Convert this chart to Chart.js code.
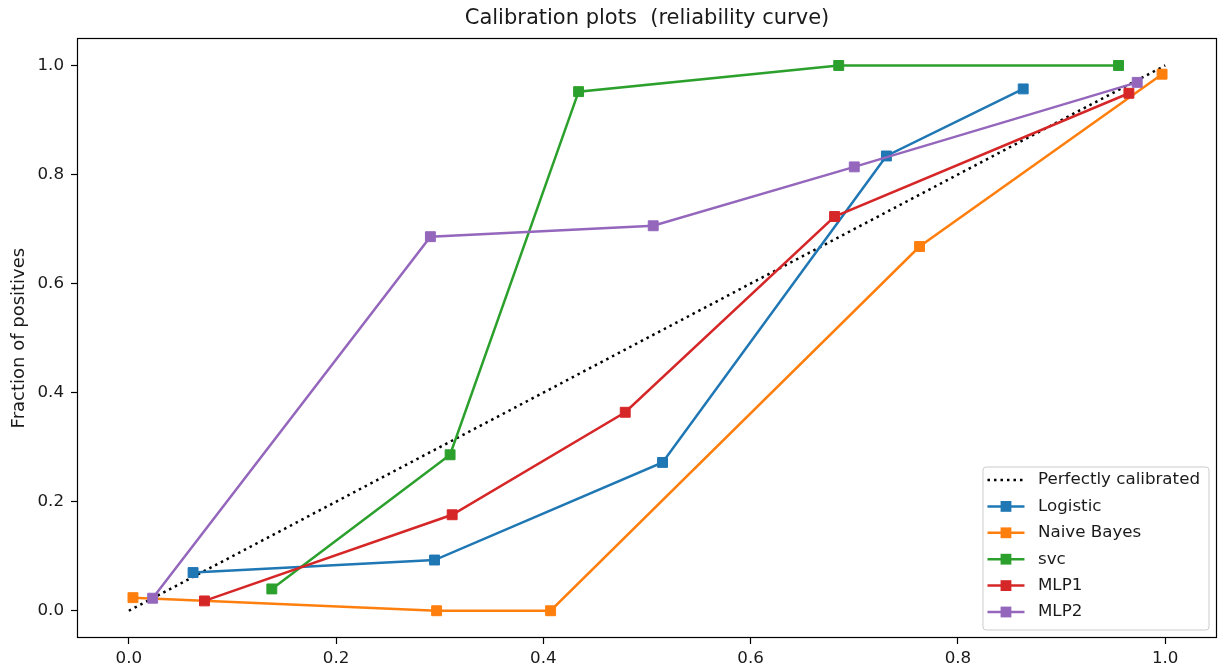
<!DOCTYPE html>
<html>

<head>
    <title>Calibration plots</title>
    <script src="https://cdn.jsdelivr.net/npm/chart.js@4.4.0/dist/chart.umd.min.js"></script>
    <style>
        body { margin: 0; background: #fff; }
    </style>
</head>

<body>
    <canvas id="calChart" width="1225" height="668"></canvas>
    <script>
        // tick labels
        const xTicks = [0.0, 0.2, 0.4, 0.6, 0.8, 1.0];
        const yTicks = [0.0, 0.2, 0.4, 0.6, 0.8, 1.0];

        // diagonal reference
        const perfectX = [0, 1];
        const perfectY = [0, 1];

        // mean predicted value (x) / fraction of positives (y)
        const logisticX = [0.062, 0.295, 0.515, 0.731, 0.863];
        const logisticY = [0.070, 0.093, 0.272, 0.834, 0.957];
        const bayesX = [0.004, 0.297, 0.407, 0.763, 0.997];
        const bayesY = [0.024, 0.000, 0.000, 0.668, 0.984];
        const svcX = [0.138, 0.310, 0.434, 0.685, 0.955];
        const svcY = [0.040, 0.286, 0.952, 1.000, 1.000];
        const mlp1X = [0.073, 0.312, 0.479, 0.681, 0.965];
        const mlp1Y = [0.018, 0.176, 0.364, 0.723, 0.949];
        const mlp2X = [0.023, 0.291, 0.506, 0.700, 0.973];
        const mlp2Y = [0.023, 0.686, 0.706, 0.814, 0.969];

        const seriesNames = ['Logistic', 'Naive Bayes', 'svc', 'MLP1', 'MLP2'];
        const seriesX = [logisticX, bayesX, svcX, mlp1X, mlp2X];
        const seriesY = [logisticY, bayesY, svcY, mlp1Y, mlp2Y];
        const seriesColors = ['#1f77b4', '#ff7f0e', '#2ca02c', '#d62728', '#9467bd'];

        const FONT = '"DejaVu Sans", sans-serif';
        const FS = 16.7;
        const DOTS = [2.5, 4];
        const toPoints = (xs, ys) => xs.map((x, i) => ({ x: x, y: ys[i] }));

        const datasets = [{
            label: 'Perfectly calibrated',
            data: toPoints(perfectX, perfectY),
            borderColor: '#000',
            borderWidth: 2.5,
            borderDash: DOTS,
            pointRadius: 0,
            showLine: true,
            order: 6
        }];
        seriesNames.forEach((name, i) => {
            datasets.push({
                label: name,
                data: toPoints(seriesX[i], seriesY[i]),
                borderColor: seriesColors[i],
                backgroundColor: seriesColors[i],
                borderWidth: 2.5,
                pointStyle: 'rect',
                pointRadius: 7,
                pointBorderWidth: 1,
                showLine: true,
                order: 5 - i
            });
        });

        // frame round the axes + legend in the lower right corner
        const frameAndLegend = {
            id: 'frameAndLegend',
            afterDraw(chart) {
                const ctx = chart.ctx;
                const a = chart.chartArea;
                ctx.save();
                ctx.strokeStyle = '#000';
                ctx.lineWidth = 1.2;
                ctx.strokeRect(Math.round(a.left) + 0.5, Math.round(a.top) + 0.5,
                    Math.round(a.right - a.left) - 1, Math.round(a.bottom - a.top) - 1);

                ctx.font = FS + 'px ' + FONT;
                const labels = ['Perfectly calibrated'].concat(seriesNames);
                const rowH = 26.4;
                const textW = Math.max(...labels.map(l => ctx.measureText(l).width));
                const w = 55 + textW + 9;
                const h = 163;
                const x = a.right - 8 - w;
                const y = a.bottom - 8 - h;

                ctx.beginPath();
                ctx.roundRect(x, y, w, h, 3);
                ctx.fillStyle = 'rgba(255,255,255,0.8)';
                ctx.fill();
                ctx.strokeStyle = '#cccccc';
                ctx.lineWidth = 1;
                ctx.stroke();

                labels.forEach((lab, i) => {
                    const cy = y + 13 + i * rowH;
                    const x0 = x + 4.5, x1 = x + 41.5, xm = (x0 + x1) / 2;
                    ctx.beginPath();
                    if (i === 0) {
                        ctx.setLineDash(DOTS);
                        ctx.strokeStyle = '#000';
                    } else {
                        ctx.setLineDash([]);
                        ctx.strokeStyle = seriesColors[i - 1];
                    }
                    ctx.lineWidth = 2.5;
                    ctx.moveTo(x0, cy);
                    ctx.lineTo(x1, cy);
                    ctx.stroke();
                    if (i > 0) {
                        ctx.fillStyle = seriesColors[i - 1];
                        ctx.fillRect(xm - 5.4, cy - 5.4, 10.8, 10.8);
                    }
                    ctx.fillStyle = '#1a1a1a';
                    ctx.textBaseline = 'middle';
                    ctx.textAlign = 'left';
                    ctx.fillText(lab, x + 55, cy);
                });
                ctx.restore();
            }
        };

        const tickOpts = {
            color: '#1a1a1a',
            font: { family: FONT, size: FS },
            padding: 5,
            callback: v => v.toFixed(1)
        };
        const gridOpts = {
            display: true,
            drawOnChartArea: false,
            drawTicks: true,
            tickLength: 6,
            tickWidth: 1.2,
            tickColor: '#000'
        };

        const ctx = document.getElementById('calChart').getContext('2d');
        const calChart = new Chart(ctx, {
            type: 'scatter',
            data: { datasets: datasets },
            plugins: [frameAndLegend],
            options: {
                responsive: false,
                animation: false,
                layout: { padding: { left: 0, right: 6, top: 0, bottom: 0 } },
                plugins: {
                    legend: { display: false },
                    tooltip: { enabled: false },
                    title: {
                        display: true,
                        fullSize: false,
                        text: 'Calibration plots  (reliability curve)',
                        color: '#1a1a1a',
                        font: { family: FONT, size: 21, weight: 'normal' },
                        padding: { top: 6, bottom: 7 }
                    }
                },
                scales: {
                    x: {
                        type: 'linear',
                        min: -0.05,
                        max: 1.05,
                        border: { display: false },
                        grid: gridOpts,
                        ticks: tickOpts,
                        afterBuildTicks: s => { s.ticks = xTicks.map(v => ({ value: v })); },
                        afterFit: s => { s.height = 30; }
                    },
                    y: {
                        type: 'linear',
                        min: -0.05,
                        max: 1.05,
                        border: { display: false },
                        grid: gridOpts,
                        ticks: Object.assign({}, tickOpts, { padding: 7 }),
                        afterBuildTicks: s => { s.ticks = yTicks.map(v => ({ value: v })); },
                        afterFit: s => { s.width = 77; },
                        title: {
                            display: true,
                            text: 'Fraction of positives',
                            color: '#1a1a1a',
                            font: { family: FONT, size: 18 },
                            padding: { top: 9, bottom: 0 }
                        }
                    }
                }
            }
        });
    </script>
</body>

</html>
